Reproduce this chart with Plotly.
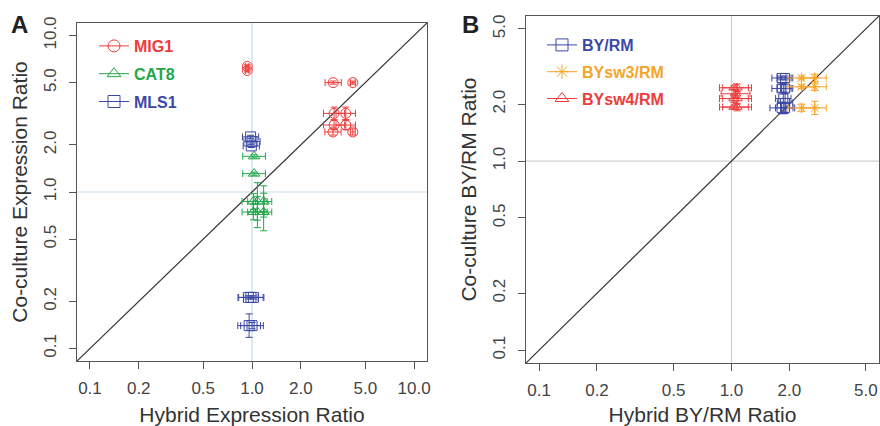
import plotly.graph_objects as go

# ---------------- data ----------------
TICK_VALS_A = [0.1, 0.2, 0.5, 1.0, 2.0, 5.0, 10.0]
TICK_TEXT_A = ["0.1", "0.2", "0.5", "1.0", "2.0", "5.0", "10.0"]
TICK_VALS_B = [0.1, 0.2, 0.5, 1.0, 2.0, 5.0]
TICK_TEXT_B = ["0.1", "0.2", "0.5", "1.0", "2.0", "5.0"]

# Panel A  (error values are log10 half-widths)
mig1_x = [0.935, 0.935, 3.17, 4.19, 3.21, 3.79, 3.21, 3.79, 3.16, 4.19]
mig1_y = [6.35, 5.98, 5.0, 5.0, 3.18, 3.18, 2.68, 2.68, 2.42, 2.42]
mig1_xe = [0.01, 0.01, 0.05, 0.015, 0.065, 0.06, 0.065, 0.06, 0.05, 0.015]
mig1_ye = [0.01, 0.01, 0.01, 0.01, 0.04, 0.04, 0.03, 0.03, 0.02, 0.02]

cat8_x = [1.03, 1.03, 1.02, 1.08, 1.18, 1.02, 1.08, 1.18]
cat8_y = [1.69, 1.31, 0.87, 0.87, 0.87, 0.745, 0.745, 0.745]
cat8_xe = [0.07, 0.07, 0.07, 0.06, 0.05, 0.07, 0.06, 0.05]
cat8_ye = [0.01, 0.01, 0.05, 0.12, 0.10, 0.05, 0.10, 0.12]

mls1_x = [0.98, 1.0, 0.99, 0.95, 0.985, 1.02, 0.96, 1.0]
mls1_y = [2.25, 2.1, 1.97, 0.212, 0.212, 0.212, 0.14, 0.14]
mls1_xe = [0.05, 0.05, 0.05, 0.06, 0.08, 0.06, 0.07, 0.07]
mls1_ye = [0.01, 0.01, 0.01, 0.01, 0.01, 0.01, 0.075, 0.02]

# Panel B
byrm_x = [1.82, 1.90, 1.82, 1.90, 1.86, 1.90, 1.82, 1.90]
byrm_y = [2.75, 2.75, 2.42, 2.42, 2.14, 2.03, 1.91, 1.91]
byrm_xe = [0.05, 0.04, 0.05, 0.04, 0.04, 0.04, 0.06, 0.05]
byrm_ye = [0.01, 0.01, 0.02, 0.02, 0.08, 0.05, 0.03, 0.03]

sw3_x = [2.31, 2.71, 2.31, 2.71, 2.31, 2.71]
sw3_y = [2.75, 2.75, 2.47, 2.47, 1.91, 1.91]
sw3_xe = [0.07, 0.06, 0.07, 0.06, 0.07, 0.06]
sw3_ye = [0.01, 0.02, 0.01, 0.02, 0.02, 0.035]

sw4_x = [1.03, 1.07, 1.03, 1.07, 1.03, 1.07, 1.05]
sw4_y = [2.44, 2.44, 2.14, 2.14, 1.93, 1.93, 2.27]
sw4_xe = [0.075, 0.075, 0.075, 0.075, 0.075, 0.075, 0.075]
sw4_ye = [0.01, 0.02, 0.02, 0.03, 0.01, 0.02, 0.02]

RANGE_A = [-1.08, 1.08]
RANGE_B = [-1.068, 0.767]

RED = "#ee3b3b"
GREEN = "#1fa84a"
BLUE = "#3c48a6"
ORANGE = "#f7a428"

W, H = 880, 426
FONT = "Liberation Sans, Arial, sans-serif"

fig = go.Figure()


def err(vals, logs):
    plus = [v * (10 ** e - 1) for v, e in zip(vals, logs)]
    minus = [v * (1 - 10 ** (-e)) for v, e in zip(vals, logs)]
    return dict(type="data", array=plus, arrayminus=minus, color=None,
                thickness=1, width=3.5, symmetric=False)


def add_series(x, y, xe, ye, color, symbol, name, xa, ya, legend, size=10):
    ex = err(x, xe); ex["color"] = color
    ey = err(y, ye); ey["color"] = color
    fig.add_trace(go.Scatter(
        x=x, y=y, mode="markers", xaxis=xa, yaxis=ya, showlegend=False,
        marker=dict(symbol=symbol, size=size, color=color, line=dict(color=color, width=1)),
        error_x=ex, error_y=ey, hoverinfo="x+y"))
    # legend entry (line stands for the horizontal error bar)
    fig.add_trace(go.Scatter(
        x=[None], y=[None], mode="lines+markers", xaxis=xa, yaxis=ya,
        name=f"<span style='color:{color}'><b>{name}</b></span>",
        legend=legend, legendgroup=name,
        line=dict(color=color, width=1),
        marker=dict(symbol=symbol, size=12, color=color, line=dict(color=color, width=1))))


def add_refs(xa, ya, rng, vcol, hcol):
    lo, hi = 10 ** rng[0], 10 ** rng[1]
    fig.add_trace(go.Scatter(x=[1, 1], y=[lo, hi], mode="lines", xaxis=xa, yaxis=ya,
                             line=dict(color=vcol, width=1.2), showlegend=False, hoverinfo="skip"))
    fig.add_trace(go.Scatter(x=[lo, hi], y=[1, 1], mode="lines", xaxis=xa, yaxis=ya,
                             line=dict(color=hcol, width=1.2), showlegend=False, hoverinfo="skip"))
    fig.add_trace(go.Scatter(x=[lo, hi], y=[lo, hi], mode="lines", xaxis=xa, yaxis=ya,
                             line=dict(color="#333333", width=1.2), showlegend=False, hoverinfo="skip"))


add_refs("x", "y", RANGE_A, "#c9dbe8", "#c9dbe8")
add_series(mig1_x, mig1_y, mig1_xe, mig1_ye, RED, "circle-open", "MIG1", "x", "y", "legend")
add_series(cat8_x, cat8_y, cat8_xe, cat8_ye, GREEN, "triangle-up-open", "CAT8", "x", "y", "legend")
add_series(mls1_x, mls1_y, mls1_xe, mls1_ye, BLUE, "square-open", "MLS1", "x", "y", "legend")

add_refs("x2", "y2", RANGE_B, "#c3d0e0", "#d0d0d0")
add_series(byrm_x, byrm_y, byrm_xe, byrm_ye, BLUE, "square-open", "BY/RM", "x2", "y2", "legend2", 9)
add_series(sw3_x, sw3_y, sw3_xe, sw3_ye, ORANGE, "asterisk-open", "BYsw3/RM", "x2", "y2", "legend2", 9)
add_series(sw4_x, sw4_y, sw4_xe, sw4_ye, RED, "triangle-up-open", "BYsw4/RM", "x2", "y2", "legend2", 9)

axis_common = dict(type="log", showgrid=False, zeroline=False, showline=True, mirror=True,
                   automargin=False,
                   linecolor="#555555", linewidth=1.3, ticks="outside", ticklen=7,
                   tickcolor="#555555", tickwidth=1.2,
                   tickfont=dict(family=FONT, size=17, color="#444444"))

title_font = dict(family=FONT, size=21, color="#333333")

fig.update_layout(
    width=W, height=H, margin=dict(l=0, r=0, t=0, b=0, autoexpand=False),
    paper_bgcolor="white", plot_bgcolor="white",
    font=dict(family=FONT),
    xaxis=dict(axis_common, domain=[77 / W, 427 / W], range=RANGE_A, anchor="y",
               tickvals=TICK_VALS_A, ticktext=TICK_TEXT_A, ticklabelstandoff=4,
               title=dict(text="Hybrid Expression Ratio", font=title_font, standoff=11)),
    yaxis=dict(axis_common, domain=[1 - 361 / H, 1 - 23 / H], range=RANGE_A, anchor="x",
               tickvals=TICK_VALS_A, ticktext=TICK_TEXT_A, tickangle=-90, ticklabelstandoff=6,
               title=dict(text="Co-culture Expression Ratio", font=title_font, standoff=7)),
    xaxis2=dict(axis_common, domain=[526 / W, 879 / W], range=RANGE_B, anchor="y2",
                tickvals=TICK_VALS_B, ticktext=TICK_TEXT_B, ticklabelstandoff=4,
                title=dict(text="Hybrid BY/RM Ratio", font=title_font, standoff=11)),
    yaxis2=dict(axis_common, domain=[1 - 363 / H, 1 - 16 / H], range=RANGE_B, anchor="x2",
                tickvals=TICK_VALS_B, ticktext=TICK_TEXT_B, tickangle=-90, ticklabelstandoff=6,
                title=dict(text="Co-culture BY/RM Ratio", font=title_font, standoff=7)),
    legend=dict(x=94 / W, y=1 - 29 / H, xanchor="left", yanchor="top",
                bgcolor="rgba(0,0,0,0)", borderwidth=0, tracegroupgap=4,
                font=dict(family=FONT, size=16), itemwidth=30),
    legend2=dict(x=542 / W, y=1 - 28 / H, xanchor="left", yanchor="top",
                 bgcolor="rgba(0,0,0,0)", borderwidth=0, tracegroupgap=3,
                 font=dict(family=FONT, size=16), itemwidth=30),
    annotations=[
        dict(text="<b>A</b>", x=19 / W, y=1 - 25 / H, xref="paper", yref="paper",
             xanchor="center", yanchor="middle",
             showarrow=False, font=dict(family=FONT, size=24, color="#222222")),
        dict(text="<b>B</b>", x=470 / W, y=1 - 25 / H, xref="paper", yref="paper",
             xanchor="center", yanchor="middle",
             showarrow=False, font=dict(family=FONT, size=24, color="#222222")),
    ],
)

# remove the browser's default 8px page margin so the 880x426 figure fills the window
page_fix = "document.body.style.margin='0';document.body.style.overflow='hidden';"
fig.write_html("out.html", post_script=page_fix, config={"displayModeBar": False})
